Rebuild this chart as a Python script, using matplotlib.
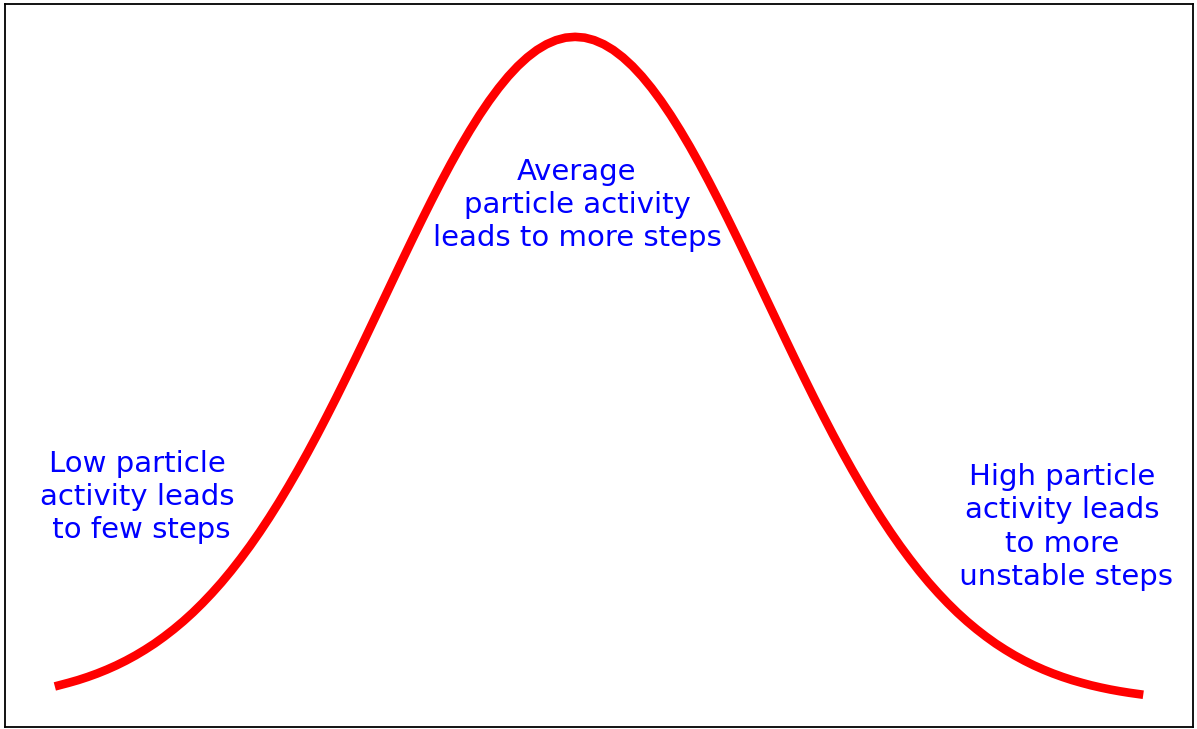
import matplotlib
matplotlib.use("Agg")
import matplotlib.pyplot as plt

# Curve: position (in spreads from the peak) and relative height
x_vals = [-2.70, -2.65, -2.60, -2.55, -2.50, -2.45, -2.40, -2.35, -2.30, -2.25,
          -2.20, -2.15, -2.10, -2.05, -2.00, -1.95, -1.90, -1.85, -1.80, -1.75,
          -1.70, -1.65, -1.60, -1.55, -1.50, -1.45, -1.40, -1.35, -1.30, -1.25,
          -1.20, -1.15, -1.10, -1.05, -1.00, -0.95, -0.90, -0.85, -0.80, -0.75,
          -0.70, -0.65, -0.60, -0.55, -0.50, -0.45, -0.40, -0.35, -0.30, -0.25,
          -0.20, -0.15, -0.10, -0.05, 0.00,
          0.05, 0.10, 0.15, 0.20, 0.25, 0.30, 0.35, 0.40, 0.45, 0.50,
          0.55, 0.60, 0.65, 0.70, 0.75, 0.80, 0.85, 0.90, 0.95, 1.00,
          1.05, 1.10, 1.15, 1.20, 1.25, 1.30, 1.35, 1.40, 1.45, 1.50,
          1.55, 1.60, 1.65, 1.70, 1.75, 1.80, 1.85, 1.90, 1.95, 2.00,
          2.05, 2.10, 2.15, 2.20, 2.25, 2.30, 2.35, 2.40, 2.45, 2.50,
          2.55, 2.60, 2.65, 2.70, 2.75, 2.80, 2.85, 2.90, 2.95]
y_vals = [0.0261, 0.0299, 0.0340, 0.0387, 0.0439, 0.0497, 0.0561, 0.0632, 0.0710, 0.0796,
          0.0889, 0.0992, 0.1103, 0.1223, 0.1353, 0.1494, 0.1645, 0.1806, 0.1979, 0.2163,
          0.2357, 0.2563, 0.2780, 0.3008, 0.3247, 0.3495, 0.3753, 0.4020, 0.4296, 0.4578,
          0.4868, 0.5162, 0.5461, 0.5763, 0.6065, 0.6368, 0.6670, 0.6968, 0.7261, 0.7548,
          0.7827, 0.8096, 0.8353, 0.8596, 0.8825, 0.9037, 0.9231, 0.9406, 0.9560, 0.9692,
          0.9802, 0.9888, 0.9950, 0.9988, 1.0000,
          0.9988, 0.9950, 0.9888, 0.9802, 0.9692, 0.9560, 0.9406, 0.9231, 0.9037, 0.8825,
          0.8596, 0.8353, 0.8096, 0.7827, 0.7548, 0.7261, 0.6968, 0.6670, 0.6368, 0.6065,
          0.5763, 0.5461, 0.5162, 0.4868, 0.4578, 0.4296, 0.4020, 0.3753, 0.3495, 0.3247,
          0.3008, 0.2780, 0.2563, 0.2357, 0.2163, 0.1979, 0.1806, 0.1645, 0.1494, 0.1353,
          0.1223, 0.1103, 0.0992, 0.0889, 0.0796, 0.0710, 0.0632, 0.0561, 0.0497, 0.0439,
          0.0387, 0.0340, 0.0299, 0.0261, 0.0228, 0.0198, 0.0172, 0.0149, 0.0129]

labels = [
    "Low particle\nactivity leads\n to few steps",
    "Average\nparticle activity\nleads to more steps",
    "High particle\nactivity leads\nto more\n unstable steps",
]
# label centres in pixels of the 1197x729 picture
label_px = [(137, 497), (577, 205), (1062, 527)]

W, H = 1197, 729
fig = plt.figure(figsize=(W / 100, H / 100), dpi=100)
ax = fig.add_axes([5 / W, 2 / H, 1188 / W, 723 / H])

ax.plot(x_vals, y_vals, color="red", linewidth=6.2, solid_joinstyle="round")

ax.set_xticks([])
ax.set_yticks([])
for sp in ax.spines.values():
    sp.set_color("black")
    sp.set_linewidth(1.3)

for txt, (px, py) in zip(labels, label_px):
    fig.text(px / W, 1 - py / H, txt, color="blue", fontsize=21,
             ha="center", va="center", multialignment="center",
             linespacing=1.25)

fig.savefig("out.png", dpi=100)
